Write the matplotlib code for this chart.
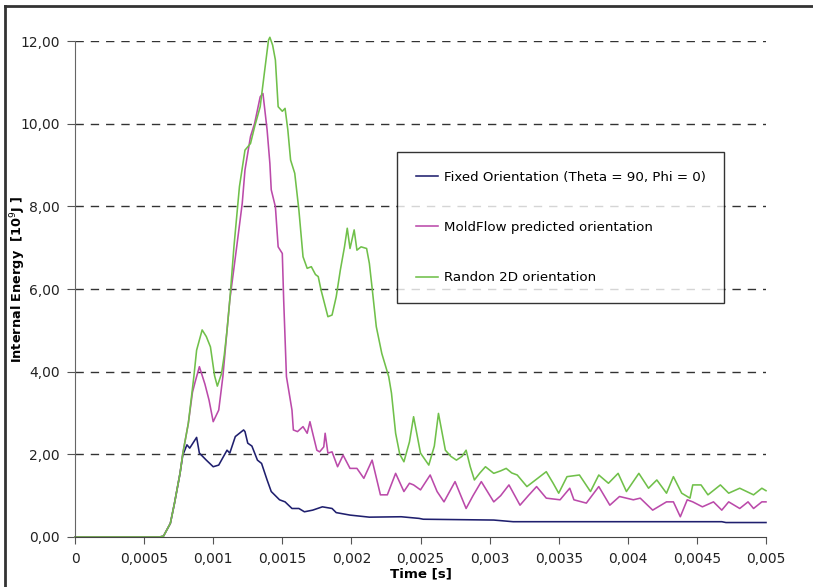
import matplotlib.pyplot as plt
from matplotlib.lines import Line2D

# data (time in s, energy in 10^9 J)
fixed_t = [0, 0.00061, 0.00064, 0.00069, 0.00072, 0.00076, 0.00078, 0.00081, 0.00083, 0.00088,
           0.00090, 0.00095, 0.00100, 0.00104, 0.00110, 0.00112, 0.00116, 0.00122, 0.00123, 0.00125,
           0.00128, 0.00132, 0.00135, 0.00139, 0.00142, 0.00148, 0.00152, 0.00157, 0.00162, 0.00166,
           0.00172, 0.00179, 0.00186, 0.00189, 0.00199, 0.00213, 0.00236, 0.00249, 0.00252, 0.00303,
           0.00317, 0.00468, 0.00471, 0.00500]
fixed_e = [0, 0, 0.02, 0.33, 0.82, 1.54, 1.98, 2.23, 2.15, 2.41,
           2.03, 1.86, 1.70, 1.74, 2.10, 2.03, 2.43, 2.59, 2.55, 2.27,
           2.20, 1.86, 1.78, 1.38, 1.10, 0.90, 0.85, 0.69, 0.69, 0.61,
           0.65, 0.73, 0.69, 0.59, 0.53, 0.48, 0.49, 0.45, 0.43, 0.41,
           0.37, 0.37, 0.35, 0.35]

mold_t = [0, 0.00061, 0.00064, 0.00069, 0.00072, 0.00076, 0.00078, 0.00082, 0.00085, 0.00087,
          0.00090, 0.00094, 0.00097, 0.00100, 0.00104, 0.00107, 0.00110, 0.00112, 0.00117, 0.00121,
          0.00123, 0.00127, 0.00130, 0.00134, 0.00136, 0.00139, 0.00141, 0.00142, 0.00145, 0.00147,
          0.00150, 0.00151, 0.00153, 0.00157, 0.00158, 0.00161, 0.00165, 0.00168, 0.00170, 0.00172,
          0.00175, 0.00177, 0.00180, 0.00181, 0.00183, 0.00186, 0.00190, 0.00194, 0.00199, 0.00204,
          0.00209, 0.00215, 0.00221, 0.00226, 0.00232, 0.00238, 0.00242, 0.00245, 0.00250, 0.00257,
          0.00262, 0.00267, 0.00275, 0.00283, 0.00288, 0.00294, 0.00303, 0.00308, 0.00314, 0.00322,
          0.00328, 0.00334, 0.00341, 0.00351, 0.00358, 0.00361, 0.00370, 0.00379, 0.00387, 0.00394,
          0.00404, 0.00409, 0.00418, 0.00428, 0.00433, 0.00438, 0.00443, 0.00447, 0.00454, 0.00462,
          0.00468, 0.00473, 0.00481, 0.00487, 0.00491, 0.00497, 0.00500]
mold_e = [0, 0, 0.02, 0.33, 0.82, 1.54, 2.02, 2.75, 3.50, 3.76,
          4.12, 3.70, 3.31, 2.79, 3.07, 3.88, 5.00, 5.73, 7.02, 8.07,
          8.88, 9.69, 10.01, 10.65, 10.73, 9.85, 9.04, 8.40, 7.99, 7.02,
          6.86, 5.73, 3.88, 3.07, 2.59, 2.55, 2.67, 2.51, 2.79, 2.51,
          2.10, 2.06, 2.18, 2.51, 2.03, 2.06, 1.70, 1.98, 1.66, 1.66,
          1.42, 1.86, 1.02, 1.02, 1.54, 1.10, 1.30, 1.26, 1.14, 1.50,
          1.10, 0.85, 1.34, 0.69, 1.00, 1.34, 0.85, 1.00, 1.26, 0.77,
          1.00, 1.22, 0.94, 0.90, 1.18, 0.90, 0.82, 1.22, 0.77, 0.98,
          0.90, 0.94, 0.65, 0.85, 0.85, 0.49, 0.90, 0.85, 0.73, 0.85,
          0.65, 0.85, 0.69, 0.85, 0.69, 0.85, 0.85]

rand_t = [0, 0.00061, 0.00064, 0.00069, 0.00072, 0.00076, 0.00078, 0.00082, 0.00086, 0.00088,
          0.00092, 0.00095, 0.00098, 0.00101, 0.00103, 0.00106, 0.00108, 0.00110, 0.00112, 0.00115,
          0.00119, 0.00123, 0.00127, 0.00130, 0.00134, 0.00137, 0.00140, 0.00141, 0.00143, 0.00145,
          0.00147, 0.00150, 0.00152, 0.00154, 0.00156, 0.00159, 0.00162, 0.00165, 0.00168, 0.00171,
          0.00174, 0.00176, 0.00178, 0.00183, 0.00186, 0.00189, 0.00192, 0.00195, 0.00197, 0.00199,
          0.00202, 0.00204, 0.00207, 0.00211, 0.00213, 0.00215, 0.00218, 0.00222, 0.00227, 0.00229,
          0.00232, 0.00235, 0.00238, 0.00242, 0.00245, 0.00250, 0.00256, 0.00260, 0.00263, 0.00268,
          0.00272, 0.00276, 0.00280, 0.00283, 0.00286, 0.00289, 0.00293, 0.00297, 0.00303, 0.00308,
          0.00312, 0.00316, 0.00320, 0.00327, 0.00334, 0.00341, 0.00346, 0.00350, 0.00356, 0.00365,
          0.00373, 0.00379, 0.00386, 0.00393, 0.00399, 0.00408, 0.00415, 0.00421, 0.00428, 0.00433,
          0.00439, 0.00445, 0.00447, 0.00453, 0.00458, 0.00467, 0.00473, 0.00481, 0.00491, 0.00497,
          0.00500]
rand_e = [0, 0, 0.02, 0.33, 0.82, 1.54, 2.02, 2.75, 3.88, 4.52,
          5.01, 4.85, 4.60, 3.90, 3.65, 3.95, 4.40, 5.00, 5.73, 7.02,
          8.48, 9.36, 9.52, 9.93, 10.41, 11.22, 12.02, 12.09, 11.90, 11.54,
          10.41, 10.30, 10.37, 9.85, 9.12, 8.80, 7.91, 6.78, 6.50, 6.54,
          6.35, 6.30, 5.98, 5.33, 5.37, 5.81, 6.46, 7.02, 7.47, 6.98,
          7.43, 6.94, 7.02, 6.98, 6.62, 6.02, 5.09, 4.44, 3.88, 3.48,
          2.51, 2.00, 1.82, 2.30, 2.91, 2.03, 1.74, 2.20, 2.99, 2.10,
          1.95, 1.86, 1.95, 2.10, 1.70, 1.38, 1.55, 1.70, 1.54, 1.60,
          1.66, 1.55, 1.50, 1.22, 1.40, 1.58, 1.30, 1.06, 1.46, 1.50,
          1.10, 1.50, 1.30, 1.54, 1.10, 1.54, 1.18, 1.38, 1.06, 1.46,
          1.06, 0.94, 1.26, 1.26, 1.02, 1.26, 1.06, 1.18, 1.02, 1.18,
          1.12]

x_ticks = [0, 0.0005, 0.001, 0.0015, 0.002, 0.0025, 0.003, 0.0035, 0.004, 0.0045, 0.005]
x_labels = ['0', '0,0005', '0,001', '0,0015', '0,002', '0,0025', '0,003', '0,0035', '0,004', '0,0045', '0,005']
y_ticks = [0, 2, 4, 6, 8, 10, 12]
y_labels = ['0,00', '2,00', '4,00', '6,00', '8,00', '10,00', '12,00']

fig = plt.figure(figsize=(8.13, 5.87), dpi=100)
ax = fig.add_axes([75 / 813, 1 - 537 / 587, 691 / 813, 496 / 587])

ax.plot(fixed_t, fixed_e, color='#1f1f6e', lw=1.15, label='Fixed Orientation (Theta = 90, Phi = 0)', clip_on=False)
ax.plot(mold_t, mold_e, color='#bb4aaa', lw=1.15, label='MoldFlow predicted orientation', clip_on=False)
ax.plot(rand_t, rand_e, color='#70c04a', lw=1.15, label='Randon 2D orientation', clip_on=False)

ax.set_xlim(0, 0.005)
ax.set_ylim(0, 12)
ax.set_xticks(x_ticks)
ax.set_xticklabels(x_labels)
ax.set_yticks(y_ticks)
ax.set_yticklabels(y_labels)
ax.tick_params(axis='both', labelsize=10, colors='#222222')
ax.tick_params(axis='y', direction='out', length=6, pad=5, color='#555555')
ax.tick_params(axis='x', direction='out', length=5, pad=6, color='#555555')

for y in y_ticks[1:]:
    ax.axhline(y, color='#333333', lw=1, ls=(0, (6, 5)), zorder=0)

ax.spines['top'].set_visible(False)
ax.spines['right'].set_visible(False)
ax.spines['left'].set_color('#666666')
ax.spines['bottom'].set_color('#444444')

ax.set_xlabel('Time [s]', fontsize=9.6, fontweight='bold')
ax.xaxis.set_label_coords(0.5, -0.061)
ax.set_ylabel('Internal Energy  [10$^9$J ]', fontsize=9.3, fontweight='bold')
ax.yaxis.set_label_coords(-0.068, 0.52)

leg = ax.legend(loc='upper left', bbox_to_anchor=((397 - 75) / 691, (537 - 152) / 496),
                borderaxespad=0, fontsize=9.6, labelspacing=2.8, handlelength=1.7,
                handletextpad=0.4, borderpad=1.4, fancybox=False, frameon=True)
leg.get_frame().set_edgecolor('black')
leg.get_frame().set_linewidth(1)

# outer frame of the picture
fig.add_artist(Line2D([5 / 813, 1.0], [1 - 6 / 587, 1 - 6 / 587], color='#333333', lw=2))
fig.add_artist(Line2D([5 / 813, 5 / 813], [1 - 6 / 587, 0.0], color='#333333', lw=2))

plt.savefig('out.png', dpi=100)
plt.close()
